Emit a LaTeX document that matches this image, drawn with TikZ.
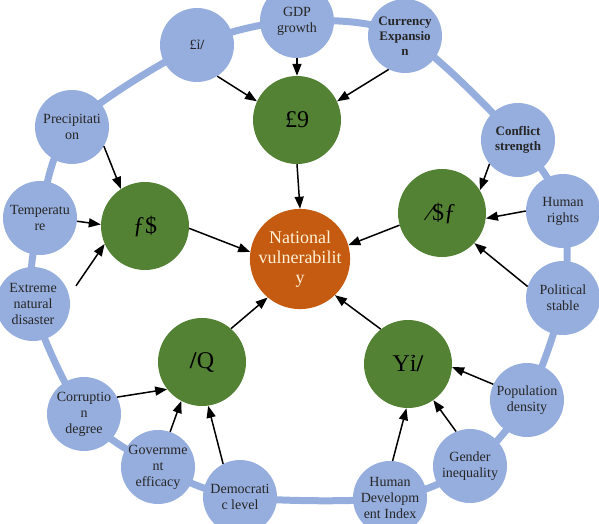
\documentclass[tikz,border=0pt]{standalone}
\usepackage{fontspec}
\setmainfont{Liberation Serif}
\usetikzlibrary{arrows.meta, backgrounds}

\definecolor{ringblue}{RGB}{150,174,222}
\definecolor{facgreen}{RGB}{84,130,53}
\definecolor{coreorange}{RGB}{197,90,17}
\definecolor{corefont}{RGB}{255,242,214}

\begin{document}
\begin{tikzpicture}[x=1pt, y=-1pt,
    leaf/.style={circle, fill=ringblue, minimum size=74pt, inner sep=0pt, align=center,
        text=black!85, font=\fontsize{14}{16}\selectfont},
    boldleaf/.style={leaf, font=\fontsize{13}{15}\selectfont\bfseries},
    factor/.style={circle, fill=facgreen, minimum size=88pt, inner sep=0pt,
        font=\fontsize{24}{26}\selectfont},
    link/.style={-{Triangle[length=12pt, width=9pt]}, line width=1.5pt}]
    \useasboundingbox (0,0) rectangle (599,524);

    % Outer indicators
    \node[leaf] (gdp) at (297,21) {GDP\\growth};
    \node[boldleaf] (cur) at (405,36) {Currency\\Expansio\\n};
    \node[boldleaf] (conf) at (518,140) {Conflict\\strength};
    \node[leaf] (hr) at (563,211) {Human\\rights};
    \node[leaf] (pol) at (563,298) {Political\\stable};
    \node[leaf] (pop) at (527,400) {Population\\density};
    \node[leaf] (gen) at (470,466) {Gender\\inequality};
    \node[leaf] (hdi) at (390,498) {Human\\Developm\\ent Index};
    \node[leaf] (dem) at (240,497) {Democrati\\c level};
    \node[leaf] (gov) at (158,467) {Governme\\nt\\efficacy};
    \node[leaf] (corr) at (84,414) {Corruptio\\n\\degree};
    \node[leaf] (ext) at (33,304) {Extreme\\natural\\disaster};
    \node[leaf] (temp) at (40,218) {Temperatu\\re};
    \node[leaf] (prec) at (72,127) {Precipitati\\on};
    \node[leaf] (pound) at (197,45) {£ỉ\textbf{/}};

    % Ring behind the indicators
    \begin{pgfonlayer}{background}
        \draw[ringblue, line width=7pt] plot[smooth cycle] coordinates {(gdp.center) (cur.center)
            (conf.center) (hr.center) (pol.center) (pop.center) (gen.center) (hdi.center)
            (dem.center) (gov.center) (corr.center) (ext.center) (temp.center) (prec.center)
            (pound.center)};
    \end{pgfonlayer}

    % Dimensions
    \node[factor] (econ) at (297,120) {£9};
    \node[factor] (env) at (145,226) {ƒ\$};
    \node[factor] (secur) at (442,213) {⁄\$ƒ};
    \node[factor] (govern) at (202,362) {\textbf{/}Q};
    \node[factor] (soc) at (408,364) {Yỉ\textbf{/}};

    % Core
    \node[circle, fill=coreorange, minimum size=100pt, inner sep=0pt, align=center,
        text=corefont, font=\fontsize{18}{20}\selectfont] (nat) at (300,259)
        {National\\vulnerabilit\\y};

    % Arrows into the dimensions
    \draw[link] (pound.-57) -- (econ.155);
    \draw[link] (gdp.-90) -- (econ.90);
    \draw[link] (cur.-116) -- (econ.25);
    \draw[link] (prec.-31) -- (env.123);
    \draw[link] (temp.-5) -- (env.178);
    \draw[link] ([shift={(9,-3)}]ext.24) -- (env.-156);
    \draw[link] (conf.-140) -- (secur.31);
    \draw[link] (hr.180) -- (secur.-7);
    \draw[link] (pol.162) -- (secur.-43);
    \draw[link] (corr.27) -- (govern.-142);
    \draw[link] (gov.71) -- (govern.-118);
    \draw[link] (dem.117) -- (govern.-82);
    \draw[link] (hdi.86) -- (soc.-92);
    \draw[link] (gen.112) -- (soc.-55);
    \draw[link] (pop.155) -- (soc.-4);

    % Arrows into the core
    \draw[link] (econ.-90) -- (nat.90);
    \draw[link] (env.-3) -- (nat.172);
    \draw[link] (secur.-164) -- (nat.16);
    \draw[link] (govern.49) -- (nat.-130);
    \draw[link] (soc.128) -- (nat.-46);
\end{tikzpicture}
\end{document}
